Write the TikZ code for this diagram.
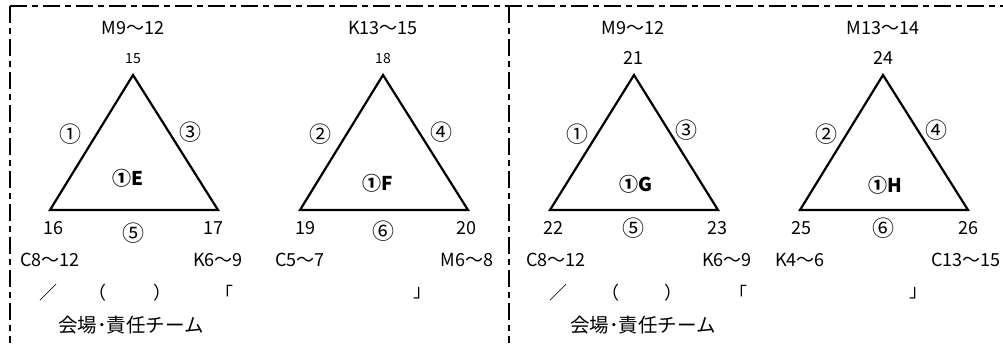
\documentclass[tikz,border=0pt]{standalone}
\usepackage{fontspec}
\setmainfont{Noto Sans CJK JP}
\begin{document}
\begin{tikzpicture}[x=1pt, y=-1pt,
  every node/.style={font=\fontsize{18}{20}\selectfont, inner sep=0pt},
  apex/.style={font=\fontsize{14}{16}\selectfont},
  circ/.style={font=\fontsize{22}{24}\selectfont},
  tag/.style={font=\bfseries\fontsize{19}{21}\selectfont},
  team/.style={font=\fontsize{19.5}{22}\selectfont},
  tri/.style={line width=2.2pt, line join=miter},
  frame/.style={line width=2pt, dash pattern=on 17pt off 5pt on 6pt off 5pt}]
  \useasboundingbox (0,0) rectangle (1003,343);
  % frame
  \coordinate (tl) at (10,6);
  \coordinate (tr) at (1003,6);
  \coordinate (bl) at (10,343);
  \coordinate (tm) at (509,6);
  \coordinate (bm) at (509,343);
  \draw[frame] (tl) -- (tr);
  \draw[frame] (tl) -- (bl);
  \draw[frame] (tm) -- (bm);
  % triangle E
  \coordinate (Etop) at (133,75);
  \coordinate (Eleft) at (50,210);
  \coordinate (Eright) at (218,210);
  \draw[tri] (Etop) -- (Eleft) -- (Eright) -- cycle;
  \node (Erange) at (133,28) {M9～12};
  \node[apex] (Etopn) at (133,59) {15};
  \node[circ] (Eside1) at (70,134) {①};
  \node[circ] (Eside2) at (190,132) {③};
  \node[tag] (Etag) at (128,178) {①E};
  \node (Eleftn) at (53,228) {16};
  \node[circ] (Ebase) at (133,233) {⑤};
  \node (Erightn) at (213,228) {17};
  \node (Elrange) at (50,260) {C8～12};
  \node (Errange) at (218,260) {K6～9};
  % triangle F
  \coordinate (Ftop) at (383,75);
  \coordinate (Fleft) at (300,210);
  \coordinate (Fright) at (468,210);
  \draw[tri] (Ftop) -- (Fleft) -- (Fright) -- cycle;
  \node (Frange) at (383,28) {K13～15};
  \node[apex] (Ftopn) at (383,59) {18};
  \node[circ] (Fside1) at (320,134) {②};
  \node[circ] (Fside2) at (441,132) {④};
  \node[tag] (Ftag) at (378,183) {①F};
  \node (Fleftn) at (305,228) {19};
  \node[circ] (Fbase) at (383,231) {⑥};
  \node (Frightn) at (466,228) {20};
  \node (Flrange) at (300,260) {C5～7};
  \node (Frrange) at (467,260) {M6～8};
  % triangle G
  \coordinate (Gtop) at (634,75);
  \coordinate (Gleft) at (550,210);
  \coordinate (Gright) at (718,210);
  \draw[tri] (Gtop) -- (Gleft) -- (Gright) -- cycle;
  \node (Grange) at (633,28) {M9～12};
  \node (Gtopn) at (633,58) {21};
  \node[circ] (Gside1) at (577,134) {①};
  \node[circ] (Gside2) at (686,130) {③};
  \node[tag] (Gtag) at (636,184) {①G};
  \node (Gleftn) at (553,228) {22};
  \node[circ] (Gbase) at (633,228) {⑤};
  \node (Grightn) at (717,228) {23};
  \node (Glrange) at (556,260) {C8～12};
  \node (Grrange) at (727,260) {K6～9};
  % triangle H
  \coordinate (Htop) at (883,75);
  \coordinate (Hleft) at (800,210);
  \coordinate (Hright) at (968,210);
  \draw[tri] (Htop) -- (Hleft) -- (Hright) -- cycle;
  \node (Hrange) at (883,28) {M13～14};
  \node (Htopn) at (883,58) {24};
  \node[circ] (Hside1) at (826,134) {②};
  \node[circ] (Hside2) at (936,130) {④};
  \node[tag] (Htag) at (885,185) {①H};
  \node (Hleftn) at (801,228) {25};
  \node[circ] (Hbase) at (883,228) {⑥};
  \node (Hrightn) at (968,228) {26};
  \node (Hlrange) at (800,260) {K4～6};
  \node (Hrrange) at (966,260) {C13～15};
  % bottom rows
  \node (Lslash) at (48,293) {／};
  \node (Lopen) at (97,293) {（};
  \node (Lclose) at (162,293) {）};
  \node (Lquote) at (224,293) {「};
  \node (Lunquote) at (422,293) {」};
  \node[team] (Lteam) at (131,325) {会場･責任チーム};
  \node (Rslash) at (558,293) {／};
  \node (Ropen) at (610,293) {（};
  \node (Rclose) at (673,293) {）};
  \node (Rquote) at (738,293) {「};
  \node (Runquote) at (918,293) {」};
  \node[team] (Rteam) at (643,325) {会場･責任チーム};
\end{tikzpicture}
\end{document}
